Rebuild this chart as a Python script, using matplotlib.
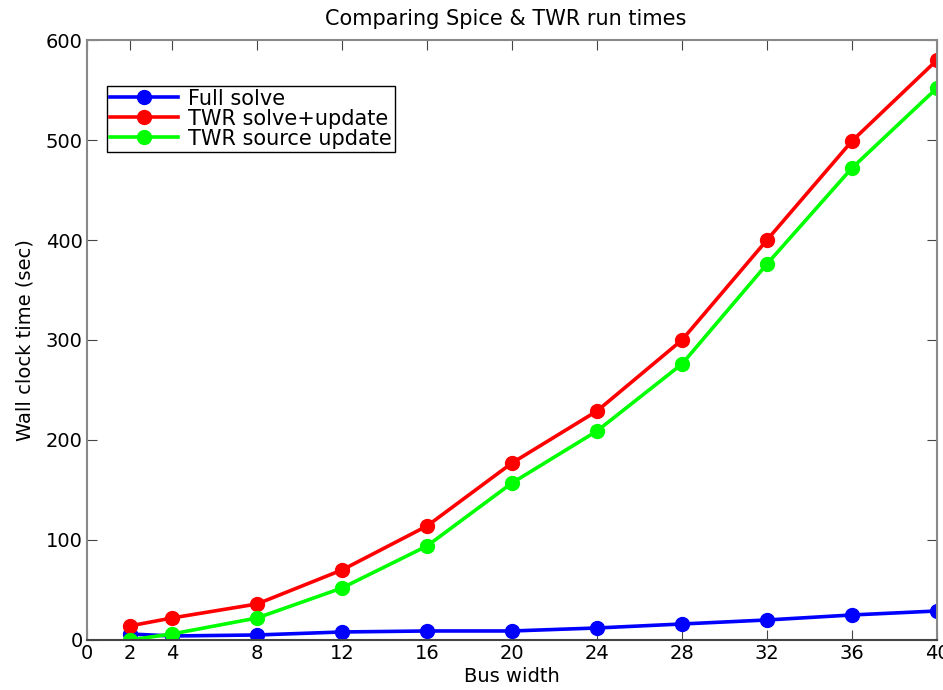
import numpy as np
import matplotlib
matplotlib.use('Agg')
import matplotlib.pyplot as plt

plt.rcParams['font.family'] = ['DejaVu Sans']

bus_width = [2, 4, 8, 12, 16, 20, 24, 28, 32, 36, 40]
full_solve = [6, 4, 5, 8, 9, 9, 12, 16, 20, 25, 29]
twr_solve_update = [14, 22, 36, 70, 114, 177, 229, 300, 400, 499, 580]
twr_source_update = [0, 6, 22, 52, 94, 157, 209, 276, 376, 472, 552]

fig = plt.figure(figsize=(9.43, 6.9), dpi=100)
ax = fig.add_axes([0.0923, 0.0725, 0.9013, 0.8695])

ax.plot(bus_width, full_solve, '-o', color='#0000ff', lw=2.6, ms=10, label='Full solve')
ax.plot(bus_width, twr_solve_update, '-o', color='#ff0000', lw=2.6, ms=10, label='TWR solve+update')
ax.plot(bus_width, twr_source_update, '-o', color='#00ff00', lw=2.6, ms=10, label='TWR source update')

ax.set_xlim(0, 40)
ax.set_ylim(0, 600)
ax.set_xticks([0] + bus_width)
ax.set_yticks(np.arange(0, 601, 100))
ax.tick_params(direction='in', length=7, top=True, right=True, labelsize=14, color='#444444', pad=3)
for s in ax.spines.values():
    s.set_color('#888888')
    s.set_linewidth(1.5)
ax.spines['bottom'].set_color('#444444')

ax.set_xlabel('Bus width', fontsize=14, labelpad=3)
ax.set_ylabel('Wall clock time (sec)', fontsize=14, labelpad=8)
ax.set_title('Comparing Spice & TWR run times', fontsize=15, pad=11, x=0.493)

leg = ax.legend(loc='upper left', bbox_to_anchor=(0.023, 0.924), fontsize=15, fancybox=False,
                framealpha=1, edgecolor='black', borderpad=0.15, labelspacing=0.0,
                handlelength=3.3, handletextpad=0.45, borderaxespad=0)
leg.get_frame().set_linewidth(1.0)

fig.savefig('out.png', dpi=100)
